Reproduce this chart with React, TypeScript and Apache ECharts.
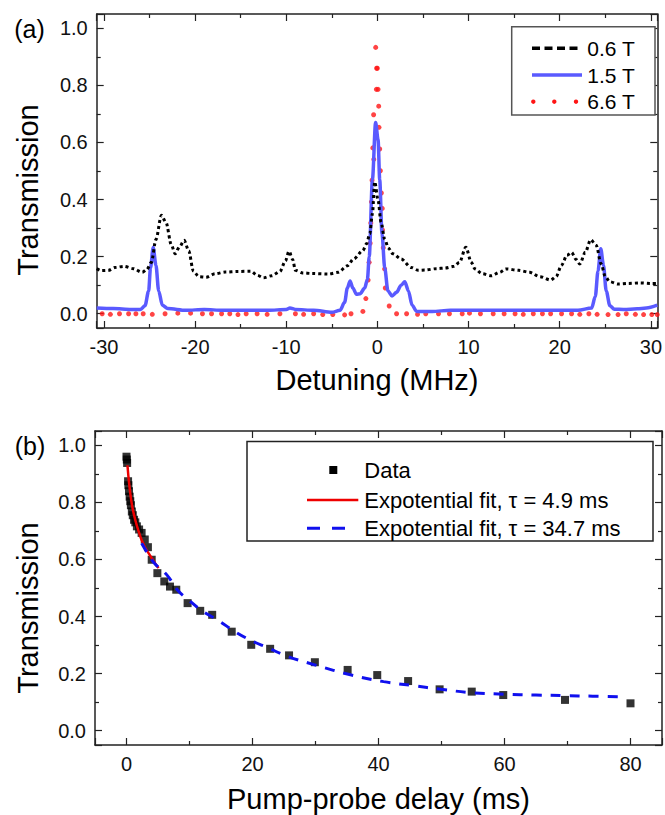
import React, { useEffect, useRef } from "react";
import * as echarts from "echarts";

const FONT = '"Liberation Sans", Arial, Helvetica, sans-serif';

// ---------- Panel (a) : transmission vs detuning ----------
const det06 = [-30.8, -30.3, -29.5, -28.8, -27.8, -26.8, -25.8, -25.3, -24.8, -24.3, -23.7, -23.2, -22.6, -22.2, -21.7, -21.2, -20.7, -20.2, -19.6, -18.8, -17.8, -16.7, -15.3, -13.9, -13.2, -12.5, -11.6, -10.7, -10.1, -9.7, -9.3, -9.0, -8.2, -7.2, -5.4, -4.3, -3.3, -2.6, -1.6, -1.2, -0.84, -0.55, -0.3, 0.07, 0.4, 0.79, 1.2, 1.7, 2.6, 3.7, 4.5, 5.2, 6.5, 7.4, 8.4, 9.0, 9.7, 10.3, 10.7, 11.5, 12.5, 13.4, 14.1, 15.5, 16.7, 17.8, 19.0, 19.6, 20.2, 20.8, 21.3, 21.8, 22.2, 22.8, 23.4, 24.0, 24.55, 25.0, 25.5, 26.4, 27.5, 28.8, 30.0, 30.7];
const trans06 = [0.158, 0.151, 0.152, 0.162, 0.166, 0.158, 0.145, 0.155, 0.18, 0.26, 0.345, 0.32, 0.24, 0.21, 0.235, 0.257, 0.22, 0.15, 0.13, 0.128, 0.14, 0.146, 0.148, 0.149, 0.135, 0.126, 0.133, 0.148, 0.185, 0.219, 0.19, 0.152, 0.143, 0.141, 0.139, 0.145, 0.168, 0.192, 0.221, 0.245, 0.28, 0.35, 0.462, 0.398, 0.32, 0.262, 0.23, 0.21, 0.192, 0.162, 0.152, 0.153, 0.158, 0.16, 0.166, 0.18, 0.233, 0.18, 0.157, 0.14, 0.133, 0.145, 0.157, 0.152, 0.145, 0.13, 0.118, 0.13, 0.17, 0.205, 0.215, 0.19, 0.174, 0.215, 0.259, 0.24, 0.174, 0.13, 0.112, 0.104, 0.106, 0.108, 0.106, 0.106];

const det15 = [-30.8, -29, -27, -26, -25.5, -25.1, -24.9, -24.6, -24.3, -24.0, -23.6, -23.0, -21, -19, -17, -15, -12, -10, -9.6, -9, -7, -5, -4.1, -3.6, -3.3, -3.0, -2.7, -2.3, -1.9, -1.4, -1.1, -0.9, -0.55, -0.2, 0.07, 0.25, 0.5, 0.8, 1.15, 1.6, 2.1, 2.6, 3.0, 3.4, 3.8, 4.3, 6, 8, 10, 12, 15, 18, 20, 22, 23.5, 23.9, 24.2, 24.5, 24.8, 25.1, 25.5, 26.0, 27, 28.5, 29.5, 30.7];
const trans15 = [0.02, 0.018, 0.015, 0.015, 0.028, 0.08, 0.16, 0.232, 0.17, 0.08, 0.03, 0.018, 0.012, 0.015, 0.012, 0.012, 0.012, 0.015, 0.02, 0.015, 0.012, 0.005, 0.012, 0.04, 0.09, 0.115, 0.09, 0.068, 0.07, 0.09, 0.12, 0.2, 0.47, 0.67, 0.61, 0.47, 0.28, 0.16, 0.08, 0.062, 0.075, 0.1, 0.112, 0.08, 0.03, 0.008, 0.008, 0.012, 0.012, 0.012, 0.012, 0.012, 0.012, 0.012, 0.02, 0.06, 0.15, 0.228, 0.17, 0.08, 0.028, 0.016, 0.015, 0.017, 0.02, 0.03];

const det66 = [-30.2, -29.3, -28.3, -27.3, -26.5, -25.7, -24.7, -23.3, -21.9, -20.5, -19.2, -18.2, -17.1, -16.2, -15.3, -14.4, -13.2, -12.1, -10.7, -9.0, -8.1, -7.0, -6.0, -4.9, -3.6, -2.9, -1.6, -1.27, -1.02, -0.91, -0.8, -0.73, -0.66, -0.59, -0.51, -0.4, -0.42, -0.2, -0.19, -0.09, -0.01, -0.12, 0.07, 0.14, 0.17, 0.25, 0.32, 0.43, 0.53, 0.55, 0.64, 0.79, 0.86, 1.29, 2.1, 3.2, 4.4, 5.3, 6.7, 7.9, 9.3, 10.1, 11.3, 12.7, 13.9, 15.1, 16.0, 17.1, 18.1, 19.0, 20.2, 21.3, 22.2, 23.2, 24.1, 25.3, 26.4, 27.3, 28.3, 29.2, 30.1, 30.7];
const trans66 = [0.0, -0.002, 0.0, 0.0, 0.0, 0.0, -0.002, 0.0, 0.002, 0.002, 0.0, 0.0, 0.0, 0.0, -0.003, 0.0, 0.0, -0.002, 0.0, 0.0, -0.002, 0.0, -0.003, -0.003, -0.004, 0.0, 0.008, 0.053, 0.118, 0.18, 0.247, 0.318, 0.392, 0.468, 0.581, 0.541, 0.697, 0.615, 0.933, 0.86, 0.86, 0.786, 0.786, 0.727, 0.653, 0.577, 0.501, 0.423, 0.369, 0.294, 0.231, 0.157, 0.09, 0.027, 0.0, 0.0, -0.002, 0.0, 0.0, 0.0, 0.0, 0.002, 0.0, 0.0, 0.0, 0.0, -0.002, 0.0, 0.0, 0.0, 0.0, 0.0, -0.002, 0.0, -0.002, -0.003, -0.003, 0.0, -0.002, -0.003, -0.003, -0.003];

// ---------- Panel (b) : transmission vs pump-probe delay ----------
const delay = [0, 0.05, 0.1, 0.25, 0.3, 0.4, 0.5, 0.6, 0.7, 0.85, 1.0, 1.2, 1.4, 1.65, 2.0, 2.4, 2.9, 3.4, 4.0, 4.9, 6.0, 6.9, 7.9, 9.7, 11.7, 13.6, 16.7, 19.8, 22.8, 25.8, 29.9, 35.1, 39.8, 44.7, 49.7, 54.8, 59.8, 69.6, 80.0];
const transDelay = [0.96, 0.95, 0.938, 0.874, 0.86, 0.839, 0.82, 0.804, 0.79, 0.768, 0.755, 0.739, 0.73, 0.716, 0.705, 0.693, 0.67, 0.643, 0.599, 0.552, 0.523, 0.505, 0.494, 0.447, 0.42, 0.406, 0.347, 0.301, 0.287, 0.264, 0.24, 0.213, 0.195, 0.174, 0.145, 0.137, 0.125, 0.108, 0.096];

const fitFastT = [0.15, 0.4, 0.7, 1.0, 1.4, 1.9, 2.4, 3.0, 3.5, 4.2, 4.8, 5.1];
const fitFastY = [0.93, 0.87, 0.815, 0.775, 0.738, 0.70, 0.668, 0.64, 0.622, 0.598, 0.578, 0.57];

const fitSlowT = [2.4, 3.4, 4.5, 6.4, 8.2, 9.8, 12, 14.8, 17, 19.6, 22.5, 25.6, 30, 35.7, 40.8, 45.5, 49.9, 55, 60, 65, 69.5, 74, 78.2];
const fitSlowY = [0.657, 0.62, 0.585, 0.546, 0.49, 0.459, 0.42, 0.383, 0.35, 0.318, 0.29, 0.26, 0.23, 0.195, 0.172, 0.158, 0.145, 0.133, 0.128, 0.125, 0.123, 0.121, 0.119];

const legendA = ["0.6 T", "1.5 T", "6.6 T"];
const legendB = ["Data", "Expotential fit, \u03c4 = 4.9 ms", "Expotential fit, \u03c4 = 34.7 ms"];

const zip = (xs: number[], ys: number[]) => xs.map((x, i) => [x, ys[i]]);

const AX = "#222";

function axis(
  gridIndex: number,
  min: number,
  max: number,
  position: string,
  showLabel: boolean,
  yFmt: boolean,
  extra: any = {}
) {
  return {
    type: "value",
    gridIndex,
    min,
    max,
    position,
    splitLine: { show: false },
    axisLine: { show: true, onZero: false, lineStyle: { color: AX, width: 1.5 } },
    axisTick: { show: true, inside: true, length: 7, lineStyle: { color: AX, width: 1.2 } },
    minorTick: { show: true, splitNumber: 2, length: 4, lineStyle: { color: AX, width: 1.2 } },
    axisLabel: {
      show: showLabel,
      showMinLabel: false,
      showMaxLabel: false,
      margin: 9,
      fontSize: 20,
      color: "#111",
      fontFamily: FONT,
      formatter: (v: number) => (yFmt ? v.toFixed(1) : String(Math.round(v))),
    },
    ...extra,
  };
}

export default function App() {
  const ref = useRef<HTMLDivElement>(null);
  useEffect(() => {
    const chart = echarts.init(ref.current!, null, { renderer: "svg" });
    const nameStyle = { fontSize: 29, color: "#000", fontFamily: FONT };
    const option: any = {
      animation: false,
      backgroundColor: "#fff",
      grid: [
        { left: 96.7, top: 14, width: 565.3, height: 314 },
        { left: 95, top: 431, width: 567, height: 314 },
      ],
      xAxis: [
        axis(0, -30.8, 30.7, "bottom", true, false, {
          name: "Detuning (MHz)",
          nameLocation: "middle",
          nameGap: 37.5,
          nameTextStyle: nameStyle,
        }),
        axis(0, -30.8, 30.7, "top", false, false),
        axis(1, -5, 85, "bottom", true, false, {
          name: "Pump-probe delay (ms)",
          nameLocation: "middle",
          nameGap: 39.5,
          nameTextStyle: nameStyle,
        }),
        axis(1, -5, 85, "top", false, false),
      ],
      yAxis: [
        axis(0, -0.05, 1.05, "left", true, true),
        axis(0, -0.05, 1.05, "right", false, true),
        axis(1, -0.05, 1.05, "left", true, true),
        axis(1, -0.05, 1.05, "right", false, true),
      ],
      series: [
        {
          name: legendA[1],
          type: "line",
          xAxisIndex: 0,
          yAxisIndex: 0,
          data: zip(det15, trans15),
          showSymbol: false,
          smooth: 0.3,
          smoothMonotone: "x",
          lineStyle: { color: "#5a5aff", width: 3.5 },
        },
        {
          name: legendA[0],
          type: "line",
          xAxisIndex: 0,
          yAxisIndex: 0,
          data: zip(det06, trans06),
          showSymbol: false,
          smooth: 0.3,
          smoothMonotone: "x",
          lineStyle: { color: "#000", width: 3, type: [3, 3] },
        },
        {
          name: legendA[2],
          type: "scatter",
          xAxisIndex: 0,
          yAxisIndex: 0,
          data: zip(det66, trans66),
          symbol: "circle",
          symbolSize: 5,
          itemStyle: { color: "#ff1515" },
        },
        {
          name: legendB[0],
          type: "scatter",
          xAxisIndex: 2,
          yAxisIndex: 2,
          data: zip(delay, transDelay),
          symbol: "rect",
          symbolSize: 8,
          itemStyle: { color: "#000" },
        },
        {
          name: legendB[1],
          type: "line",
          xAxisIndex: 2,
          yAxisIndex: 2,
          data: zip(fitFastT, fitFastY),
          showSymbol: false,
          smooth: 0.4,
          lineStyle: { color: "#ee0000", width: 2.5 },
          z: 3,
        },
        {
          name: legendB[2],
          type: "line",
          xAxisIndex: 2,
          yAxisIndex: 2,
          data: zip(fitSlowT, fitSlowY),
          showSymbol: false,
          smooth: 0.4,
          lineStyle: { color: "#1010ee", width: 3, type: [10, 9] },
          z: 3,
        },
      ],
      graphic: [
        // panel letters
        { type: "text", x: 29.5, y: 29, style: { text: "(a)", fontSize: 25, fontFamily: FONT, fill: "#000", align: "center", verticalAlign: "middle" } },
        { type: "text", x: 30, y: 445.5, style: { text: "(b)", fontSize: 25, fontFamily: FONT, fill: "#000", align: "center", verticalAlign: "middle" } },
        // y axis titles
        { type: "text", x: 28, y: 190, rotation: Math.PI / 2, style: { text: "Transmission", fontSize: 29, fontFamily: FONT, fill: "#000", align: "center", verticalAlign: "middle" } },
        { type: "text", x: 28, y: 608, rotation: Math.PI / 2, style: { text: "Transmission", fontSize: 29, fontFamily: FONT, fill: "#000", align: "center", verticalAlign: "middle" } },
        // legend (a)
        { type: "rect", shape: { x: 511.7, y: 26.7, width: 143.3, height: 88.3 }, style: { fill: "#fff", stroke: "#555", lineWidth: 1.5 }, z: 10 },
        { type: "line", shape: { x1: 532, y1: 48.3, x2: 582, y2: 48.3 }, style: { stroke: "#000", lineWidth: 3.5, lineDash: [8, 4.5] }, z: 11 },
        { type: "line", shape: { x1: 532, y1: 75, x2: 582, y2: 75 }, style: { stroke: "#5a5aff", lineWidth: 3.5 }, z: 11 },
        { type: "circle", shape: { cx: 533.3, cy: 101.7, r: 2.2 }, style: { fill: "#ff1515" }, z: 11 },
        { type: "circle", shape: { cx: 554.3, cy: 101.7, r: 2.2 }, style: { fill: "#ff1515" }, z: 11 },
        { type: "circle", shape: { cx: 576, cy: 101.7, r: 2.2 }, style: { fill: "#ff1515" }, z: 11 },
        { type: "text", x: 587.3, y: 48.3, style: { text: legendA[0], fontSize: 21, fontFamily: FONT, fill: "#000", align: "left", verticalAlign: "middle" }, z: 11 },
        { type: "text", x: 587.3, y: 75, style: { text: legendA[1], fontSize: 21, fontFamily: FONT, fill: "#000", align: "left", verticalAlign: "middle" }, z: 11 },
        { type: "text", x: 587.3, y: 101.7, style: { text: legendA[2], fontSize: 21, fontFamily: FONT, fill: "#000", align: "left", verticalAlign: "middle" }, z: 11 },
        // legend (b)
        { type: "rect", shape: { x: 247, y: 441.5, width: 406, height: 99.5 }, style: { fill: "#fff", stroke: "#222", lineWidth: 1.5 }, z: 10 },
        { type: "rect", shape: { x: 329.3, y: 466, width: 8, height: 8 }, style: { fill: "#000" }, z: 11 },
        { type: "line", shape: { x1: 307, y1: 500, x2: 358.3, y2: 500 }, style: { stroke: "#ee0000", lineWidth: 2.5 }, z: 11 },
        { type: "line", shape: { x1: 307, y1: 528.3, x2: 345, y2: 528.3 }, style: { stroke: "#1010ee", lineWidth: 3, lineDash: [13, 12] }, z: 11 },
        { type: "text", x: 364.3, y: 470, style: { text: legendB[0], fontSize: 22, fontFamily: FONT, fill: "#000", align: "left", verticalAlign: "middle" }, z: 11 },
        { type: "text", x: 364.3, y: 500, style: { text: legendB[1], fontSize: 22, fontFamily: FONT, fill: "#000", align: "left", verticalAlign: "middle" }, z: 11 },
        { type: "text", x: 364.3, y: 528.3, style: { text: legendB[2], fontSize: 22, fontFamily: FONT, fill: "#000", align: "left", verticalAlign: "middle" }, z: 11 },
      ],
    };
    chart.setOption(option);
    return () => chart.dispose();
  }, []);
  return (
    <div
      ref={ref}
      style={{ position: "absolute", left: 0, top: 0, width: 665, height: 815, background: "#fff" }}
    />
  );
}
